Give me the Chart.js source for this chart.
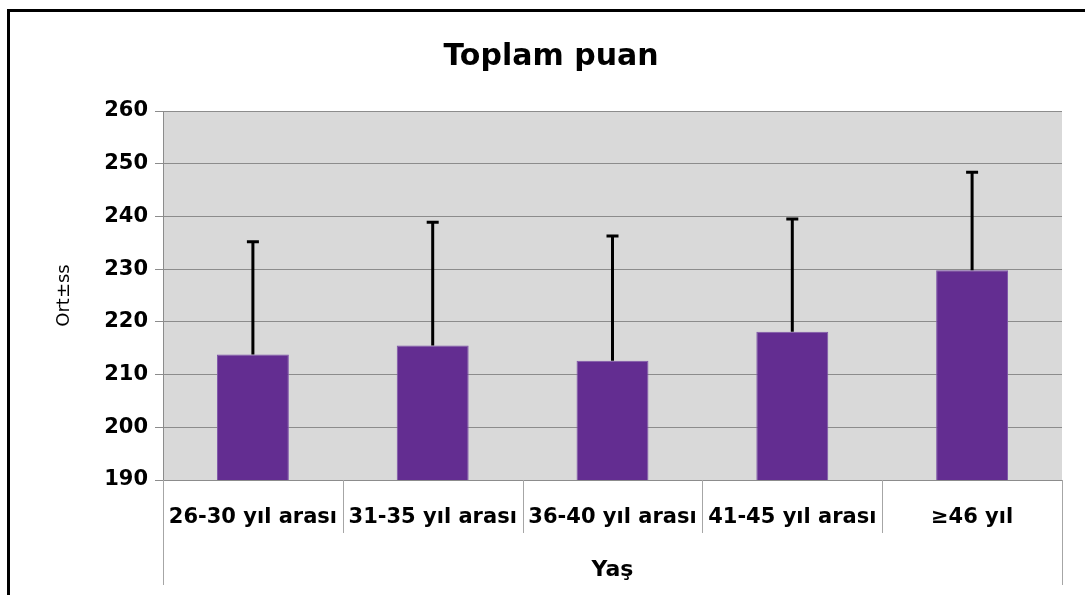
<!DOCTYPE html>
<html>
<head>
<meta charset="utf-8">
<script src="https://cdn.jsdelivr.net/npm/chart.js@4/dist/chart.umd.min.js"></script>
<style>
  html, body { margin: 0; padding: 0; background: #fff; overflow: hidden; }
  #wrap { position: relative; width: 1085px; height: 595px; }
  #frame { position: absolute; left: 7px; top: 9px; width: 1200px; height: 700px;
           border-left: 3px solid #000; border-top: 3px solid #000; pointer-events: none; }
</style>
</head>
<body>
<div id="wrap">
  <canvas id="chart" width="1085" height="595"></canvas>
  <div id="frame"></div>
</div>
<script>
// data
const categories = ["26-30 yıl arası", "31-35 yıl arası", "36-40 yıl arası", "41-45 yıl arası", "≥46 yıl"];
const means = [213.8, 215.5, 212.6, 218.1, 229.8];
const upperErr = [235.2, 238.9, 236.3, 239.5, 248.4]; // mean + ss
const yTicks = [190, 200, 210, 220, 230, 240, 250, 260];

const FONT = "'DejaVu Sans', sans-serif";

// grey plot background
const plotBg = {
  id: "plotBg",
  beforeDraw(chart) {
    const { ctx, chartArea: a } = chart;
    ctx.save();
    ctx.fillStyle = "#D9D9D9";
    ctx.fillRect(a.left, a.top, a.right - a.left, a.bottom - a.top);
    ctx.restore();
  },
};

// only the "+ss" half of the error bar, like the original
const errorBars = {
  id: "errorBars",
  afterDatasetsDraw(chart) {
    const { ctx } = chart;
    const x = chart.scales.x, y = chart.scales.y;
    ctx.save();
    ctx.strokeStyle = "#000";
    ctx.lineWidth = 3;
    upperErr.forEach((v, i) => {
      const px = x.getPixelForValue(i);
      const top = y.getPixelForValue(v);
      const base = y.getPixelForValue(means[i]);
      ctx.beginPath();
      ctx.moveTo(px, base);
      ctx.lineTo(px, top);
      ctx.moveTo(px - 6, top);
      ctx.lineTo(px + 6, top);
      ctx.stroke();
    });
    ctx.restore();
  },
};

// category separators running down through the label rows
const catLines = {
  id: "catLines",
  afterDraw(chart) {
    const { ctx, chartArea: a } = chart;
    const x = chart.scales.x;
    const step = x.getPixelForValue(1) - x.getPixelForValue(0);
    ctx.save();
    ctx.strokeStyle = "#A6A6A6";
    ctx.lineWidth = 1;
    for (let i = 0; i <= categories.length; i++) {
      const px = Math.round(x.getPixelForValue(i) - step / 2) + 0.5;
      const edge = i === 0 || i === categories.length;
      ctx.beginPath();
      ctx.moveTo(px, a.bottom);
      ctx.lineTo(px, edge ? a.bottom + 105 : a.bottom + 53);
      ctx.stroke();
    }
    ctx.restore();
  },
};

new Chart(document.getElementById("chart"), {
  type: "bar",
  data: {
    labels: categories,
    datasets: [{
      data: means,
      backgroundColor: "#632D91",
      borderColor: "#7E55A8",
      borderWidth: 1,
      borderSkipped: false,
      categoryPercentage: 1,
      barPercentage: 0.4,
    }],
  },
  options: {
    responsive: false,
    animation: false,
    layout: { padding: { left: 40, right: 23, top: 0, bottom: 0 } },
    plugins: {
      legend: { display: false },
      tooltip: { enabled: false },
      title: {
        display: true,
        text: "Toplam puan",
        color: "#000",
        font: { family: FONT, size: 30, weight: "bold" },
        padding: { top: 39, bottom: 36 },
      },
    },
    scales: {
      x: {
        grid: { display: false, drawTicks: false },
        border: { display: true, color: "#8C8C8C", width: 1 },
        ticks: {
          color: "#000",
          font: { family: FONT, size: 21, weight: "bold" },
          padding: 25,
          maxRotation: 0,
          autoSkip: false,
        },
        title: {
          display: true,
          text: "Yaş",
          color: "#000",
          font: { family: FONT, size: 22, weight: "bold" },
          padding: { top: 0, bottom: 12 },
        },
        afterFit(scale) { scale.height = 115; },
      },
      y: {
        min: 190,
        max: 260,
        afterBuildTicks(scale) { scale.ticks = yTicks.map(v => ({ value: v })); },
        grid: { color: "#8C8C8C", lineWidth: 1, drawTicks: true, tickLength: 8 },
        border: { display: true, color: "#8C8C8C", width: 1 },
        ticks: {
          color: "#000",
          font: { family: FONT, size: 21, weight: "bold" },
          padding: 7,
        },
        title: {
          display: true,
          text: "Ort±ss",
          color: "#000",
          font: { family: FONT, size: 18 },
          padding: { top: 14, bottom: 0 },
        },
        afterFit(scale) { scale.width = 123; },
      },
    },
  },
  plugins: [plotBg, errorBars, catLines],
});
</script>
</body>
</html>
